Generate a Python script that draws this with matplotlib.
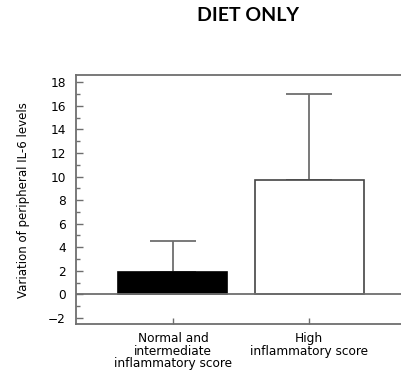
import matplotlib
matplotlib.use("Agg")
import matplotlib.pyplot as plt
from matplotlib.ticker import MultipleLocator

categories = ["Normal and\nintermediate\ninflammatory score", "High\ninflammatory score"]
means = [1.9, 9.7]
errors = [2.65, 7.3]
bar_colors = ["black", "white"]

grey = "#6e6e6e"

fig = plt.figure(figsize=(4.02, 3.70), dpi=100)
ax = fig.add_axes([0.1883, 0.123, 0.832, 0.675])

x = list(range(len(categories)))
ax.bar(x, means, width=0.8, color=bar_colors, edgecolor=["black", "#444444"], linewidth=1.2, zorder=2)
ax.errorbar(x, means, yerr=[[0, 0], errors], fmt="none", ecolor=grey, elinewidth=1.3,
            capsize=16.5, capthick=1.3, zorder=1)
ax.axhline(0, color=grey, linewidth=1.3, zorder=3)

ax.set_xlim(-0.713, 1.74)
ax.set_ylim(-2.56, 18.64)
ax.yaxis.set_major_locator(MultipleLocator(2))
ax.yaxis.set_minor_locator(MultipleLocator(1))
ax.set_xticks(x)
ax.set_xticklabels(categories, fontsize=8.7, family="DejaVu Sans", linespacing=0.95)
ax.tick_params(axis="y", direction="in", length=5, width=1, color=grey, labelsize=8.7, pad=7)
ax.tick_params(axis="y", which="minor", direction="in", length=3, width=1, color=grey)
ax.tick_params(axis="x", direction="in", length=4, width=1, color=grey, pad=5.5)
for lbl in ax.get_yticklabels():
    lbl.set_family("DejaVu Sans")

for side in ["left", "top", "bottom"]:
    ax.spines[side].set_color(grey)
    ax.spines[side].set_linewidth(1.3)
ax.spines["right"].set_visible(False)

ax.set_ylabel("Variation of peripheral IL-6 levels", fontsize=8.5, family="DejaVu Sans", labelpad=13)
fig.text(0.617, 0.957, "DIET ONLY", ha="center", va="center", fontsize=14,
         fontweight="bold", family="Lato")

fig.savefig("out.png", dpi=100)
